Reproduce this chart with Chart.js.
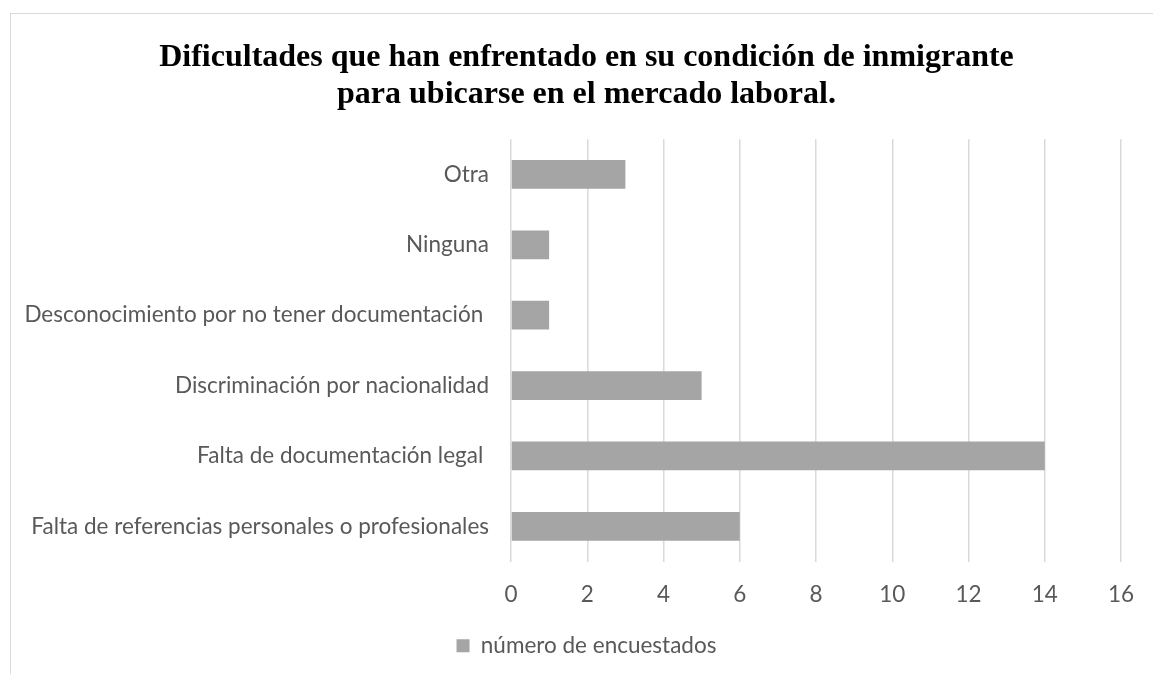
<!DOCTYPE html>
<html>
<head>
<meta charset="utf-8">
<script src="https://cdn.jsdelivr.net/npm/chart.js@4/dist/chart.umd.min.js"></script>
<style>
  html, body { margin: 0; padding: 0; background: #fff; overflow: hidden; width: 1153px; height: 674px; }
  #frame { position: absolute; left: 10px; top: 13px; width: 1153px; height: 674px; border-left: 1.5px solid #D9D9D9; border-top: 1.5px solid #D9D9D9; box-sizing: border-box; }
  #wrap { position: absolute; left: 10px; top: 13px; width: 1153px; height: 674px; }
</style>
</head>
<body>
<div id="frame"></div>
<div id="wrap"><canvas id="c" width="1153" height="674"></canvas></div>
<script>
const categories = [
  "Otra",
  "Ninguna",
  "Desconocimiento por no tener documentación ",
  "Discriminación por nacionalidad",
  "Falta de documentación legal ",
  "Falta de referencias personales o profesionales"
];
const seriesName = "número de encuestados";
const values = [3, 1, 1, 5, 14, 6];
const titleLines = [
  "Dificultades que han enfrentado en su condición de inmigrante",
  "para ubicarse en el mercado laboral."
];
const xMin = 0, xMax = 16, xStep = 2;

const labelFont = { family: "Lato, 'Open Sans', sans-serif", size: 22.5 };
const textColor = "#595959";

new Chart(document.getElementById("c"), {
  type: "bar",
  data: {
    labels: categories,
    datasets: [{
      label: seriesName,
      data: values,
      backgroundColor: "#A5A5A5",
      borderWidth: 0,
      categoryPercentage: 1,
      barPercentage: 0.41
    }]
  },
  options: {
    indexAxis: "y",
    responsive: false,
    animation: false,
    layout: { padding: { top: 14, right: 0, bottom: 20, left: 0 } },
    plugins: {
      title: {
        display: true,
        text: titleLines,
        color: "#000",
        font: { family: "'Liberation Serif', 'Times New Roman', serif", size: 32, weight: "bold", lineHeight: 1.16 },
        padding: { top: 12, bottom: 26 }
      },
      legend: {
        position: "bottom",
        labels: {
          color: textColor,
          font: labelFont,
          boxWidth: 13,
          boxHeight: 13,
          padding: 10
        }
      },
      tooltip: { enabled: false }
    },
    scales: {
      x: {
        min: xMin, max: xMax,
        ticks: { stepSize: xStep, color: textColor, font: labelFont, padding: 20 },
        grid: { color: "#D9D9D9", lineWidth: 1.5, drawTicks: false },
        border: { display: false },
        afterFit: (s) => { s.height = 63; }
      },
      y: {
        ticks: { color: textColor, font: labelFont, padding: 22, autoSkip: false },
        grid: { display: false, drawTicks: false },
        border: { display: false },
        afterFit: (s) => { s.width = 501; }
      },
      spacer: {
        type: "linear",
        position: "right",
        axis: "y",
        min: 0, max: 1,
        ticks: { display: false },
        grid: { display: false, drawTicks: false },
        border: { display: false },
        afterFit: (s) => { s.width = 42; }
      }
    }
  }
});
</script>
</body>
</html>
